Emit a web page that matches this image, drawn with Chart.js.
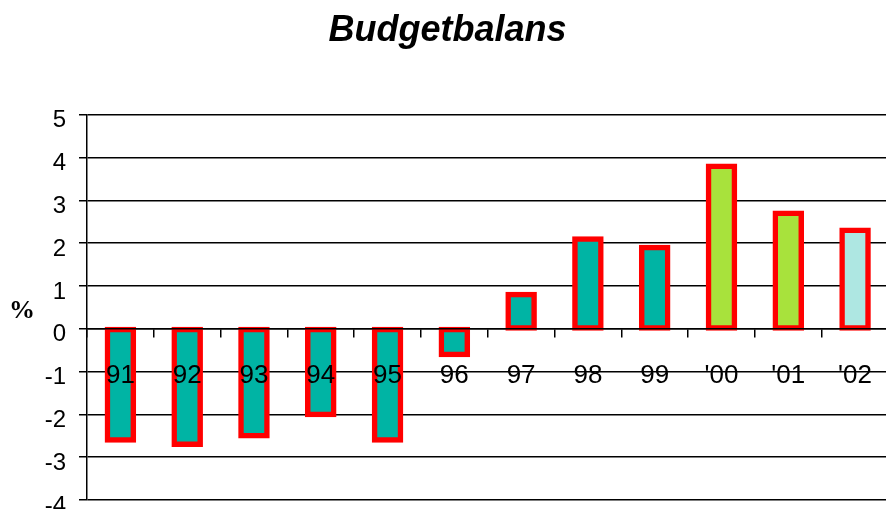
<!DOCTYPE html>
<html>
<head>
<meta charset="utf-8">
<script src="https://cdn.jsdelivr.net/npm/chart.js@4/dist/chart.umd.min.js"></script>
<style>
  html, body { margin: 0; padding: 0; background: #fff; overflow: hidden; width: 886px; height: 509px; }
  #wrap { width: 895px; height: 509px; }
</style>
</head>
<body>
<div id="wrap"><canvas id="c" width="895" height="509"></canvas></div>
<script>
const categories = ['91', '92', '93', '94', '95', '96', '97', '98', '99', "'00", "'01", "'02"];
const budgetBalance = [-2.6, -2.7, -2.5, -2.0, -2.6, -0.6, 0.8, 2.1, 1.9, 3.8, 2.7, 2.3];
const barColors = ['#00B4A4', '#00B4A4', '#00B4A4', '#00B4A4', '#00B4A4', '#00B4A4',
                   '#00B4A4', '#00B4A4', '#00B4A4', '#A8E23C', '#A8E23C', '#AEE7E2'];
const yTicks = [-4, -3, -2, -1, 0, 1, 2, 3, 4, 5];
const titleText = 'Budgetbalans';
const unitLabel = '%';

const unitPlugin = {
  id: 'unitLabel',
  afterDraw(chart) {
    const ctx = chart.ctx;
    const y = chart.scales.y.getPixelForValue(0.42);
    ctx.save();
    ctx.font = 'bold 26px "Liberation Serif", "Times New Roman", serif';
    ctx.fillStyle = '#000';
    ctx.textAlign = 'center';
    ctx.textBaseline = 'middle';
    ctx.fillText(unitLabel, 22, y);
    ctx.restore();
  }
};

new Chart(document.getElementById('c'), {
  type: 'bar',
  data: {
    labels: categories,
    datasets: [{
      data: budgetBalance,
      backgroundColor: barColors,
      borderColor: '#FF0000',
      borderWidth: 5.5,
      borderSkipped: false,
      inflateAmount: 2.75,
      categoryPercentage: 1,
      barPercentage: 0.39
    }]
  },
  options: {
    responsive: false,
    animation: false,
    devicePixelRatio: 1,
    layout: { padding: { top: 0, bottom: 9, left: 0, right: 0 } },
    plugins: {
      legend: { display: false },
      tooltip: { enabled: false },
      title: {
        display: true,
        text: titleText,
        color: '#000',
        font: { family: '"Liberation Sans", Arial, sans-serif', size: 36, weight: 'bold', style: 'italic', lineHeight: 1.2 },
        padding: { top: 9, bottom: 62.6 }
      }
    },
    scales: {
      x: {
        position: { y: 0 },
        offset: true,
        grid: { display: true, drawOnChartArea: false, drawTicks: true, tickLength: 8, color: '#000', lineWidth: 1.5, offset: true },
        border: { display: true, color: '#000', width: 1.5, z: 1 },
        ticks: { z: 1, color: '#000', padding: 23, maxRotation: 0, autoSkip: false,
                 font: { family: '"Liberation Sans", Arial, sans-serif', size: 26 } }
      },
      y: {
        min: -4,
        max: 5,
        afterBuildTicks(scale) { scale.ticks = yTicks.map(v => ({ value: v })); },
        afterFit(scale) { scale.width = 87; scale.paddingTop = 0; scale.paddingBottom = 0; },
        grid: { color: '#000', lineWidth: 1.5, tickLength: 8, drawTicks: true },
        border: { display: true, color: '#000', width: 1.5 },
        ticks: { color: '#000', padding: 13, labelOffset: 6,
                 font: { family: '"Liberation Sans", Arial, sans-serif', size: 24 } }
      }
    }
  },
  plugins: [unitPlugin]
});
</script>
</body>
</html>
